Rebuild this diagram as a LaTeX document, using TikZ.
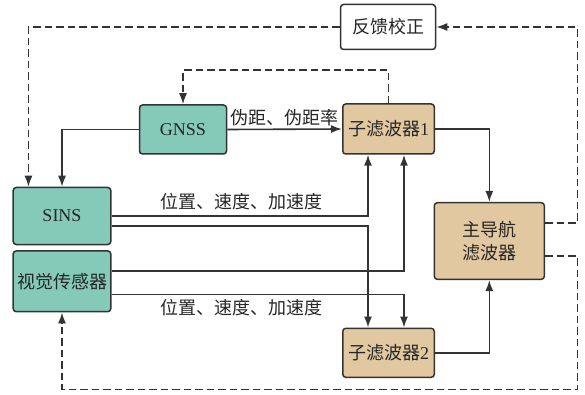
\documentclass[tikz,border=0pt]{standalone}
\usepackage{fontspec}
\setmainfont{Liberation Serif}
\newfontfamily\cjk{Noto Sans CJK SC}
\usetikzlibrary{arrows.meta,calc}
\definecolor{teal1}{HTML}{85C9B9}
\definecolor{tan1}{HTML}{E2C8A0}
\definecolor{ln}{HTML}{333333}
\tikzset{
  box/.style={draw=ln, line width=1.5pt, rounded corners=3pt, inner sep=0pt, text=black!85,
    font=\fontsize{18}{23}\selectfont},
  sensor/.style={box, fill=teal1},
  filt/.style={box, fill=tan1},
  conn/.style={ln, line width=1.6pt, -{Latex[length=11pt,width=8pt]}},
  dconn/.style={conn, dash pattern=on 7.5pt off 4pt},
  lab/.style={font=\fontsize{18}{22}\selectfont\cjk, text=black!85, inner sep=0pt}
}
\begin{document}
\begin{tikzpicture}[x=1pt,y=-1pt]
\useasboundingbox (0,0) rectangle (585,395);
\node[box, fill=white, minimum width=95pt, minimum height=45pt] (fb) at (388,27) {\cjk 反馈校正};
\node[sensor, minimum width=87pt, minimum height=49pt] (gnss) at (183,129.5) {GNSS};
\node[filt, minimum width=91.5pt, minimum height=50pt] (sf1) at (388.5,129) {{\cjk 子滤波器}1};
\node[sensor, minimum width=97.6pt, minimum height=57pt] (sins) at (62,216) {SINS};
\node[sensor, minimum width=97.6pt, minimum height=60.7pt] (vis) at (62,281.3) {\cjk 视觉传感器};
\node[filt, minimum width=110pt, minimum height=76.6pt, align=center] (main) at (489.3,241) {\cjk 主导航\\\cjk 滤波器};
\node[filt, minimum width=91.5pt, minimum height=49pt] (sf2) at (388.5,352.8) {{\cjk 子滤波器}2};

\coordinate (sinsin) at ($(sins.north west)+(16,0)$);
\coordinate (c1a) at ($(sf1.south)+(-20.5,0)$);
\coordinate (c1b) at ($(sf1.south)+(15.5,0)$);
\coordinate (c2a) at ($(sf2.north)+(-20.5,0)$);
\coordinate (c2b) at ($(sf2.north)+(15.5,0)$);
\coordinate (top1) at ($(sf1.north)+(0,-33)$);
\coordinate (rtop) at (577.4,222.7);
\coordinate (rbot) at (577.4,389.3);

% solid
\draw[conn] (gnss.west) -| (sins.north);
\draw[conn] (gnss.east) -- node[lab, above=3pt]{伪距、伪距率} (sf1.west);
\draw[conn] (sf1.east) -| (main.north);
\draw[conn] (sins.east) -| (c1a);
\draw[conn] ($(sins.east)+(0,10)$) -| (c2a);
\draw[conn] ($(vis.east)+(0,-10.6)$) -| (c1b);
\draw[conn] ($(vis.east)+(0,13)$) -| (c2b);
\draw[conn] (sf2.east) -| (main.south);
\node[lab] (l1) at (241,201.7) {位置、速度、加速度};
\node[lab] (l2) at (241,308) {位置、速度、加速度};

% dashed
\draw[dconn] (fb.west) -| (sinsin);
\draw[dconn] (sf1.north) -- (top1) -| (gnss.north);
\draw[dconn] ($(main.east)+(0,-18.3)$) -- (rtop) |- (fb.east);
\draw[dconn] ($(main.east)+(0,15)$) -| (rbot) -| (vis.south);
\end{tikzpicture}
\end{document}
